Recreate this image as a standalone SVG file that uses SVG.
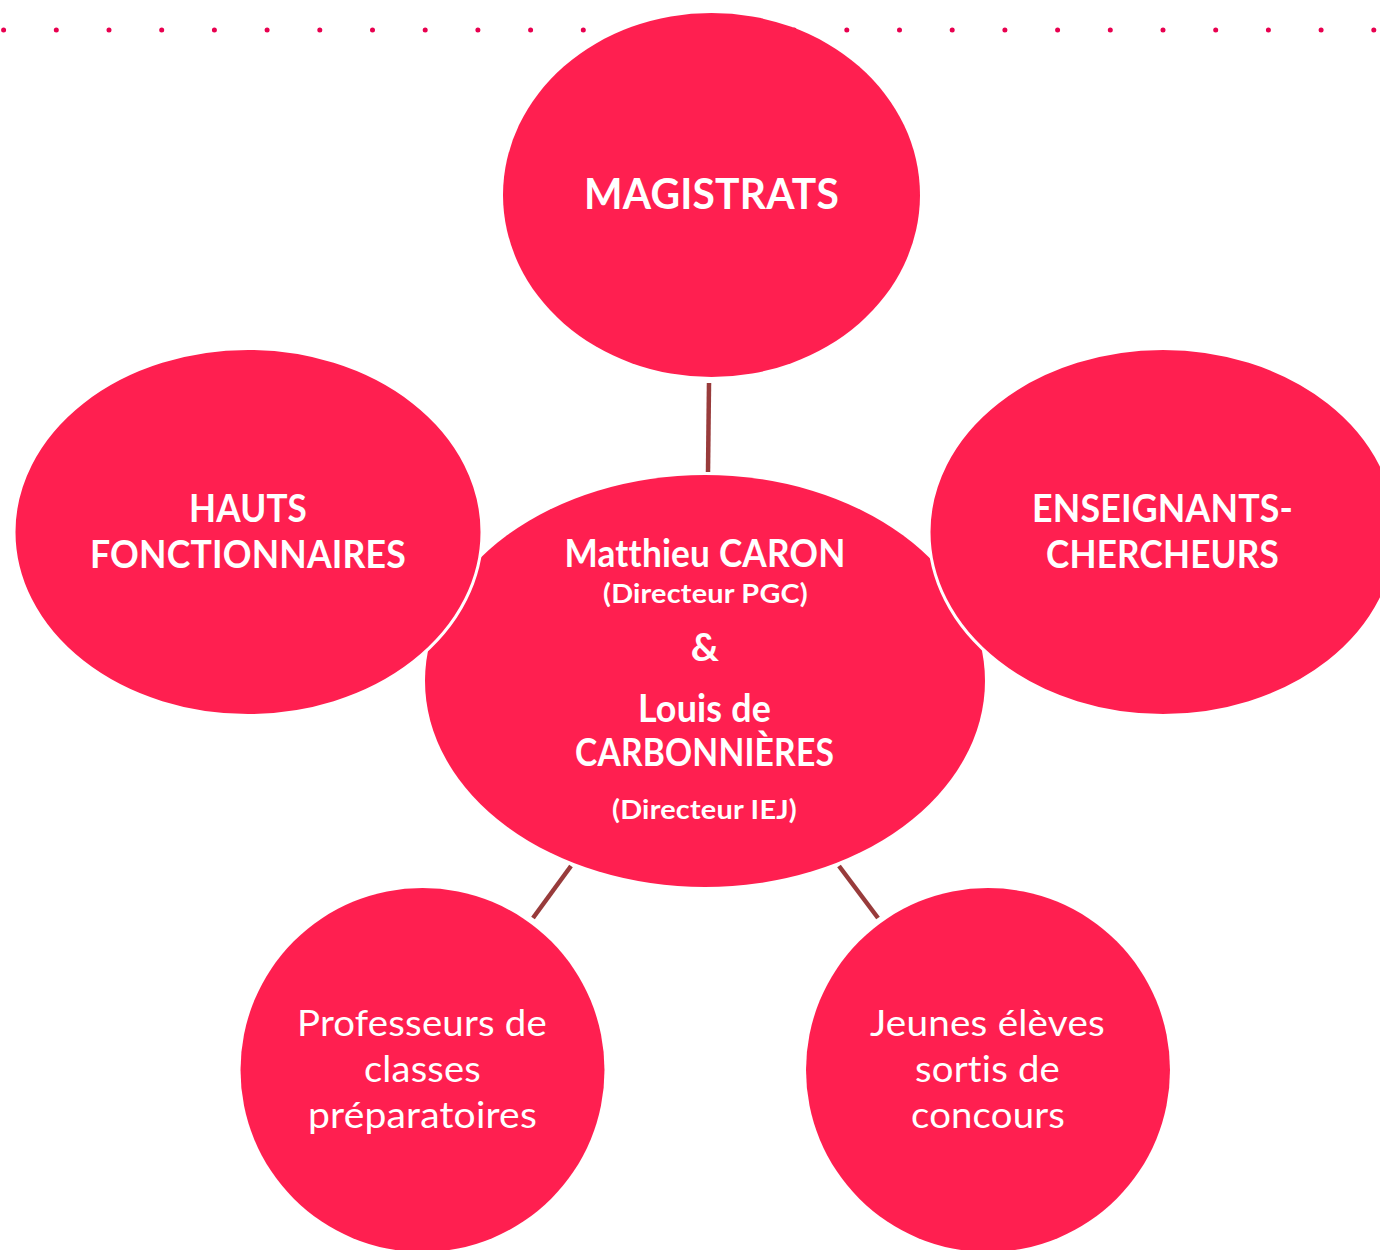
<svg xmlns="http://www.w3.org/2000/svg" width="1380" height="1250" viewBox="0 0 1380 1250">
  <style>
    .node { fill: #FF1F50; }
    .edge-white { stroke: #FFFFFF; stroke-width: 3; }
    .bold { font-family: Lato, "Open Sans", "Liberation Sans", sans-serif; font-weight: 700; fill: #FFFFFF; text-anchor: middle; letter-spacing: 0.2px; font-variant-ligatures: none; font-feature-settings: "liga" 0, "clig" 0, "dlig" 0, "calt" 0; }
    .reg { font-family: Lato, "Open Sans", "Liberation Sans", sans-serif; font-weight: 400; fill: #FFFFFF; text-anchor: middle; letter-spacing: 0.2px; font-variant-ligatures: none; font-feature-settings: "liga" 0, "clig" 0, "dlig" 0, "calt" 0; }
    .conn { stroke: #983B3B; stroke-width: 4.5; fill: none; }
    .dots { stroke: #E8004F; stroke-width: 5; stroke-linecap: round; stroke-dasharray: 0 52.7; fill: none; }
  </style>
  <rect width="1380" height="1250" fill="#FFFFFF"/>
  <line class="dots" x1="3.6" y1="30" x2="1380" y2="30"/>

  <g id="node-center">
    <ellipse class="node" cx="705" cy="681" rx="280" ry="206"/>
    <text class="bold" font-size="39" x="705" y="567" textLength="281" lengthAdjust="spacingAndGlyphs">Matthieu CARON</text>
    <text class="bold" font-size="26.5" x="705.5" y="603" textLength="205" lengthAdjust="spacingAndGlyphs">(Directeur PGC)</text>
    <text class="bold" font-size="39" x="705" y="661">&amp;</text>
    <text class="bold" font-size="39" x="704.5" y="722" textLength="133" lengthAdjust="spacingAndGlyphs">Louis de</text>
    <text class="bold" font-size="39" x="704.5" y="766" textLength="259" lengthAdjust="spacingAndGlyphs">CARBONNIÈRES</text>
    <text class="bold" font-size="26.5" x="704.5" y="819" textLength="185" lengthAdjust="spacingAndGlyphs">(Directeur IEJ)</text>
  </g>

  <g id="node-hauts">
    <ellipse class="node edge-white" cx="248" cy="532" rx="234" ry="183.5"/>
    <text class="bold" font-size="39" x="248" y="522" textLength="118" lengthAdjust="spacingAndGlyphs">HAUTS</text>
    <text class="bold" font-size="39" x="248" y="568" textLength="316" lengthAdjust="spacingAndGlyphs">FONCTIONNAIRES</text>
  </g>

  <g id="node-enseignants">
    <ellipse class="node edge-white" cx="1163" cy="532" rx="234" ry="183.5"/>
    <text class="bold" font-size="39" x="1162.5" y="522" textLength="261" lengthAdjust="spacingAndGlyphs">ENSEIGNANTS-</text>
    <text class="bold" font-size="39" x="1162.5" y="568" textLength="233" lengthAdjust="spacingAndGlyphs">CHERCHEURS</text>
  </g>

  <g id="node-magistrats">
    <ellipse class="node" cx="711.5" cy="195" rx="208.5" ry="182"/>
    <text class="bold" font-size="42.5" x="711.5" y="209" textLength="255" lengthAdjust="spacingAndGlyphs">MAGISTRATS</text>
  </g>

  <g id="node-professeurs">
    <circle class="node" cx="422.5" cy="1070" r="182"/>
    <text class="reg" font-size="36.5" x="422" y="1036" textLength="250" lengthAdjust="spacingAndGlyphs">Professeurs de</text>
    <text class="reg" font-size="36.5" x="422.5" y="1082" textLength="117" lengthAdjust="spacingAndGlyphs">classes</text>
    <text class="reg" font-size="36.5" x="422.5" y="1128" textLength="229" lengthAdjust="spacingAndGlyphs">préparatoires</text>
  </g>

  <g id="node-jeunes">
    <circle class="node" cx="988" cy="1070" r="182"/>
    <text class="reg" font-size="36.5" x="987.5" y="1036" textLength="235" lengthAdjust="spacingAndGlyphs">Jeunes élèves</text>
    <text class="reg" font-size="36.5" x="987.5" y="1082" textLength="145" lengthAdjust="spacingAndGlyphs">sortis de</text>
    <text class="reg" font-size="36.5" x="988" y="1128" textLength="154" lengthAdjust="spacingAndGlyphs">concours</text>
  </g>

  <g id="connectors">
    <line class="conn" x1="709" y1="383" x2="708" y2="472"/>
    <line class="conn" x1="571" y1="866" x2="533" y2="918"/>
    <line class="conn" x1="839" y1="866" x2="878" y2="918"/>
  </g>
</svg>
